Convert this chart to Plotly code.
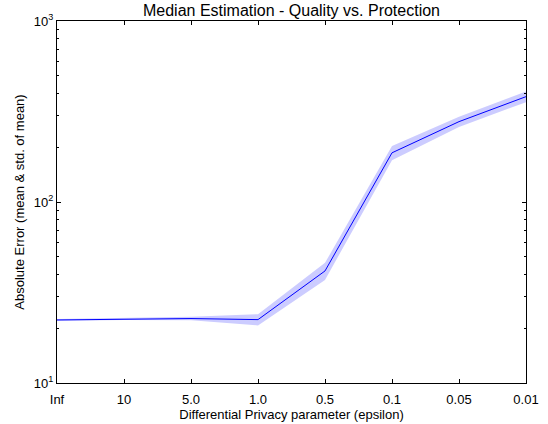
import plotly.graph_objects as go

epsilons = ["Inf", "10", "5.0", "1.0", "0.5", "0.1", "0.05", "0.01"]
mean_error = [22.3, 22.6, 22.7, 22.4, 41.6, 187, 278, 382]
std_error = [0.3, 0.3, 0.5, 1.6, 4.5, 17, 18, 26]

upper = [m + s for m, s in zip(mean_error, std_error)]
lower = [m - s for m, s in zip(mean_error, std_error)]

font = "Liberation Sans, Arial, Helvetica, sans-serif"

fig = go.Figure()
fig.add_trace(go.Scatter(x=epsilons, y=lower, mode="lines", line=dict(width=0),
                         hoverinfo="skip", showlegend=False))
fig.add_trace(go.Scatter(x=epsilons, y=upper, mode="lines", line=dict(width=0),
                         fill="tonexty", fillcolor="rgba(0,0,255,0.2)",
                         hoverinfo="skip", showlegend=False))
fig.add_trace(go.Scatter(x=epsilons, y=mean_error, mode="lines",
                         line=dict(color="#0000ff", width=1), showlegend=False))

minor_vals = [k * 10 ** d for d in (1, 2) for k in range(2, 10)]

fig.update_layout(
    width=548, height=424,
    margin=dict(l=57, r=22, t=21, b=41, autoexpand=False),
    paper_bgcolor="white", plot_bgcolor="white",
    font=dict(family=font, size=13, color="black"),
    title=dict(text="Median Estimation - Quality vs. Protection",
               x=0.5, xref="paper", xanchor="center",
               y=1 - 10 / 424, yref="container", yanchor="middle",
               font=dict(size=16, family=font, color="black")),
    xaxis=dict(
        type="category", range=[0, 7], automargin=False,
        showgrid=False, zeroline=False,
        showline=True, linecolor="black", linewidth=1, mirror="ticks",
        ticks="inside", ticklen=4, tickcolor="black", ticklabelstandoff=4,
        title=dict(text="Differential Privacy parameter (epsilon)", standoff=2,
                   font=dict(size=13)),
        tickfont=dict(size=13),
    ),
    yaxis=dict(
        type="log", range=[1, 3], automargin=False,
        showgrid=False, zeroline=False,
        showline=True, linecolor="black", linewidth=1, mirror="ticks",
        ticks="inside", ticklen=4, tickcolor="black",
        tickvals=[10, 100, 1000],
        ticktext=["10<sup>1</sup>", "10<sup>2</sup>", "10<sup>3</sup>"],
        minor=dict(tickvals=minor_vals, ticks="inside", ticklen=2, tickcolor="black"),
        title=dict(text="Absolute Error (mean & std. of mean)", standoff=6,
                   font=dict(size=13)),
        tickfont=dict(size=13),
    ),
)

fig.write_html("out.html", config={"displayModeBar": False},
               post_script="document.body.style.margin='0';")
